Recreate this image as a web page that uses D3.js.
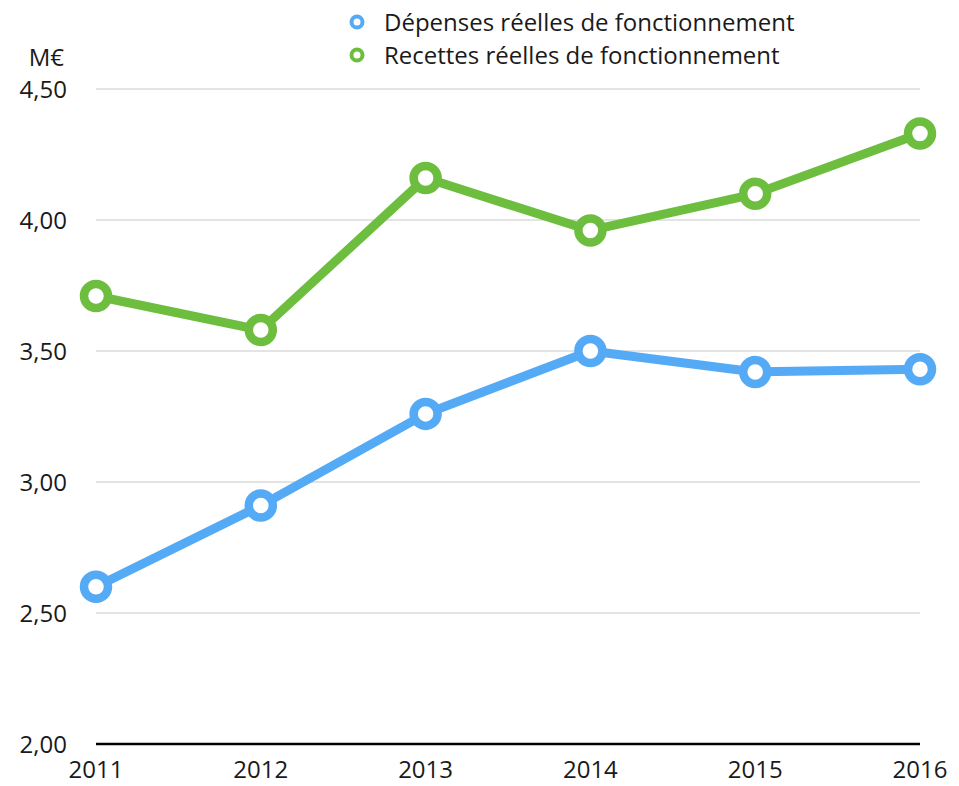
<!DOCTYPE html>
<html>
<head>
<meta charset="utf-8">
<script src="https://cdn.jsdelivr.net/npm/d3@7"></script>
<style>
  body { margin: 0; background: #fff; }
  text { font-family: "Open Sans", "Noto Sans", sans-serif; fill: #1a1a1a; }
</style>
</head>
<body>
<script>
// Data
const years = ["2011", "2012", "2013", "2014", "2015", "2016"];
const depenses = [2.60, 2.91, 3.26, 3.50, 3.42, 3.43];
const recettes = [3.71, 3.58, 4.16, 3.96, 4.10, 4.33];
const yTicks = [2.0, 2.5, 3.0, 3.5, 4.0, 4.5];
const seriesNames = ["Dépenses réelles de fonctionnement", "Recettes réelles de fonctionnement"];
const colors = ["#55aaf6", "#6dbe3f"];

const width = 959, height = 786;

const svg = d3.select("body").append("svg")
    .attr("width", width)
    .attr("height", height);

const x = d3.scalePoint().domain(years).range([96, 920]);
const y = d3.scaleLinear().domain([2, 4.5]).range([744, 89]);

// Gridlines
svg.append("g")
    .selectAll("line")
    .data(yTicks.filter(d => d > 2))
    .join("line")
    .attr("x1", 96).attr("x2", 920)
    .attr("y1", d => y(d)).attr("y2", d => y(d))
    .attr("stroke", "#c8c8c8")
    .attr("stroke-width", 1);

// Baseline
svg.append("line")
    .attr("x1", 96).attr("x2", 920)
    .attr("y1", y(2)).attr("y2", y(2))
    .attr("stroke", "#000")
    .attr("stroke-width", 2.5);

// Y labels
const fmt = d => d.toFixed(2).replace(".", ",");
svg.append("g")
    .selectAll("text")
    .data(yTicks)
    .join("text")
    .attr("x", 67)
    .attr("y", d => y(d))
    .attr("dy", "0.38em")
    .attr("text-anchor", "end")
    .attr("font-size", 24)
    .text(fmt);

svg.append("text")
    .attr("x", 64).attr("y", 66)
    .attr("text-anchor", "end")
    .attr("font-size", 24)
    .text("M€");

// X labels
svg.append("g")
    .selectAll("text")
    .data(years)
    .join("text")
    .attr("x", d => x(d))
    .attr("y", 778)
    .attr("text-anchor", "middle")
    .attr("font-size", 24)
    .text(d => d);

// Series
const series = [depenses, recettes];
const line = d3.line().x((d, i) => x(years[i])).y(d => y(d));

series.forEach((vals, s) => {
  svg.append("path")
      .datum(vals)
      .attr("d", line)
      .attr("fill", "none")
      .attr("stroke", colors[s])
      .attr("stroke-width", 9)
      .attr("stroke-linejoin", "round");

  svg.append("g")
      .selectAll("circle")
      .data(vals)
      .join("circle")
      .attr("cx", (d, i) => x(years[i]))
      .attr("cy", d => y(d))
      .attr("r", 12)
      .attr("fill", "#fff")
      .attr("stroke", colors[s])
      .attr("stroke-width", 8.5);
});

// Legend
const legend = svg.append("g")
    .selectAll("g")
    .data(seriesNames)
    .join("g")
    .attr("transform", (d, i) => `translate(357, ${22 + i * 33})`);

legend.append("circle")
    .attr("r", 5.5)
    .attr("fill", "#fff")
    .attr("stroke", (d, i) => colors[i])
    .attr("stroke-width", 4);

legend.append("text")
    .attr("x", 27)
    .attr("dy", "0.36em")
    .attr("font-size", 24)
    .text(d => d);
</script>
</body>
</html>
